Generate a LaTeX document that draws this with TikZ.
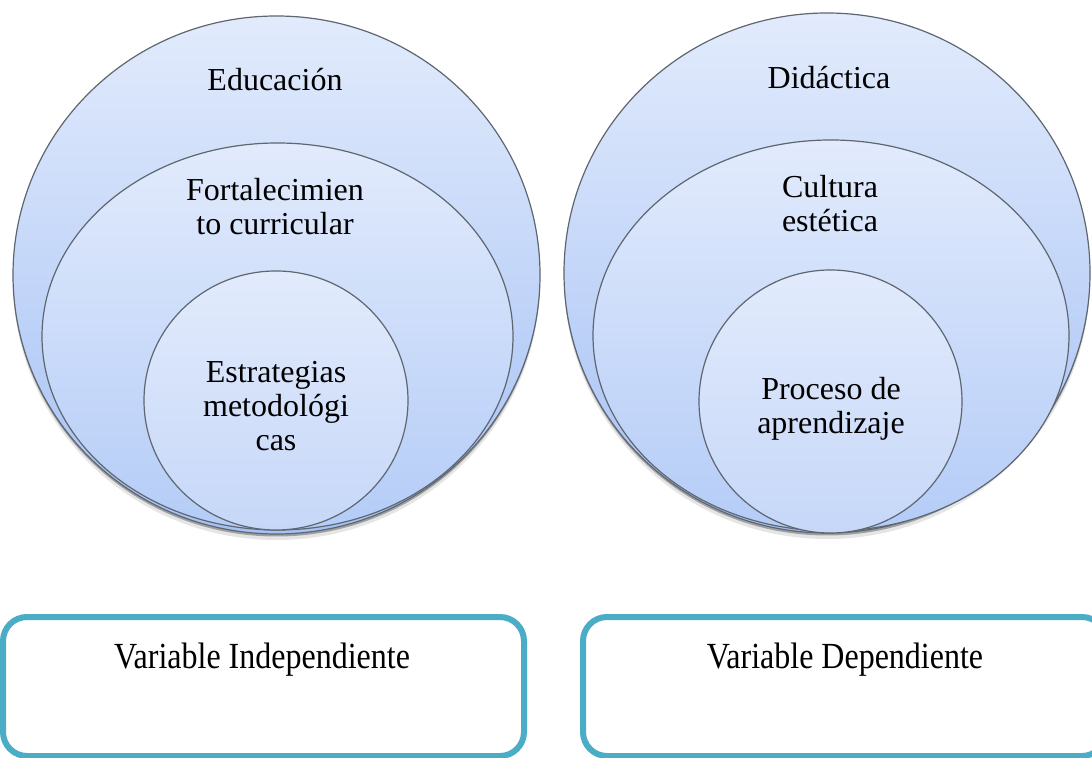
\documentclass[tikz,border=0pt]{standalone}
\usepackage{fontspec}
\setmainfont{Liberation Serif}
\usepackage{graphicx}
\definecolor{ringtop}{HTML}{E2EBFC}
\definecolor{outerbot}{HTML}{A5C1F5}
\definecolor{midbot}{HTML}{B4CCF7}
\definecolor{innerbot}{HTML}{C6D7F8}
\definecolor{ringline}{HTML}{5E6670}
\definecolor{varline}{HTML}{4BACC6}
\begin{document}
\begin{tikzpicture}[x=0.5pt,y=-0.5pt,
    ring/.style={draw=ringline,line width=0.6pt,top color=ringtop},
    shadowring/.style={fill=black,opacity=0.1},
    ringtext/.style={align=center,font=\fontsize{16}{17}\selectfont},
    varbox/.style={draw=varline,line width=3pt,rounded corners=12pt,fill=white}]
    \useasboundingbox (0,0) rectangle (1092,758);
    \clip (0,0) rectangle (1092,758);
    %% Shadows
    \fill[shadowring] (276.5,281) ellipse (263.5 and 259);
    \fill[shadowring,opacity=0.3] (276.5,277.5) ellipse (263.5 and 259);
    \fill[shadowring] (827,279) ellipse (263 and 260);
    \fill[shadowring,opacity=0.3] (827,275.5) ellipse (263 and 260);
    %% Left rings
    \shade[ring,bottom color=outerbot] (276.5,275) ellipse (263.5 and 259);
    \shade[ring,bottom color=midbot] (277.5,336.5) ellipse (235.5 and 193.5);
    \shade[ring,bottom color=innerbot] (276,400.5) ellipse (132 and 129.5);
    %% Right rings
    \shade[ring,bottom color=outerbot] (827,273) ellipse (263 and 260);
    \shade[ring,bottom color=midbot] (831,335.5) ellipse (238 and 195.5);
    \shade[ring,bottom color=innerbot] (830.5,401.5) ellipse (131.5 and 131.5);
    %% Labels
    \node[ringtext] (educ) at (275,80) {Educación};
    \node[ringtext] (fort) at (275,207) {Fortalecimien\\to curricular};
    \node[ringtext] (estr) at (276,406) {Estrategias\\metodológi\\cas};
    \node[ringtext] (dida) at (829,78) {Didáctica};
    \node[ringtext] (cult) at (830,204) {Cultura\\estética};
    \node[ringtext] (proc) at (831,409) {Proceso de\\aprendizaje};
    %% Variables
    \draw[varbox] (3,617) rectangle (524,756);
    \draw[varbox] (583,617) rectangle (1106,756);
    \node[ringtext] (vind) at (262,660) {\scalebox{1}[1.15]{Variable Independiente}};
    \node[ringtext] (vdep) at (845,660) {\scalebox{1}[1.15]{Variable Dependiente}};
\end{tikzpicture}
\end{document}
